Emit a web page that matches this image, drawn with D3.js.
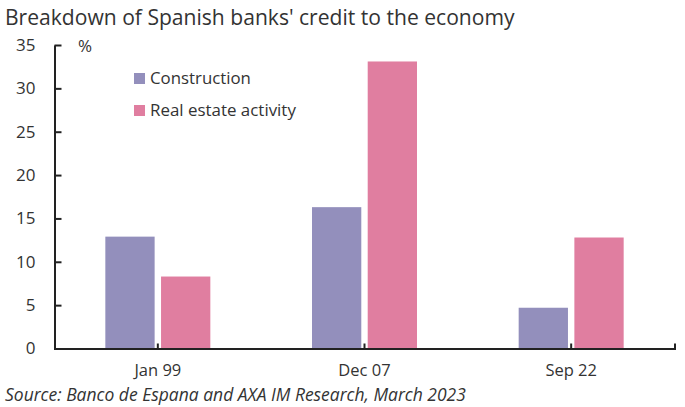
<!DOCTYPE html>
<html><head><meta charset="utf-8">
<script src="https://cdn.jsdelivr.net/npm/d3@7"></script>
<style>body{margin:0;background:#fff}svg{display:block}text{font-family:"Open Sans","Noto Sans",sans-serif;fill:#333}</style>
</head><body><svg id="c" width="685" height="407"></svg>
<script>
const categories = ["Jan 99", "Dec 07", "Sep 22"];
const seriesNames = ["Construction", "Real estate activity"];
const construction = [12.9, 16.3, 4.7];
const realEstate = [8.3, 33.1, 12.8];
const yTicks = [0, 5, 10, 15, 20, 25, 30, 35];
const colors = ["#938fbc", "#e07ea0"];
const titleText = "Breakdown of Spanish banks' credit to the economy";
const sourceText = "Source: Banco de Espana and AXA IM Research, March 2023";

const svg = d3.select("#c");
const m = {l: 54.5, r: 674.5, t: 45, b: 348.5};
const y = d3.scaleLinear().domain([0, 35]).range([m.b, m.t]);
const x0 = d3.scaleBand().domain(categories).range([m.l, m.r]);
const x1 = d3.scaleBand().domain(seriesNames).range([0, 105]).paddingInner(0.115);
const data = categories.map((c, i) => ({c, vals: [construction[i], realEstate[i]]}));

function fit(t, w) {
  const len = t.node().getComputedTextLength();
  const fs = parseFloat(t.attr("font-size"));
  t.attr("font-size", fs * w / len);
}

const title = svg.append("text").attr("x", 5).attr("y", 25).attr("font-size", 20).text(titleText);
fit(title, 510);

const g = svg.append("g");
data.forEach(d => {
  const cx = x0(d.c) + x0.bandwidth() / 2 - 52.5;
  seriesNames.forEach((s, j) => {
    g.append("rect").attr("x", cx + x1(s)).attr("width", x1.bandwidth())
      .attr("y", y(d.vals[j])).attr("height", y(0) - y(d.vals[j])).attr("fill", colors[j]);
  });
});

const ya = svg.append("g").attr("transform", `translate(${m.l},0)`)
  .call(d3.axisLeft(y).tickValues(yTicks).tickSizeInner(-7).tickSizeOuter(0).tickPadding(19));
ya.select(".domain").attr("stroke", "#222").attr("stroke-width", 2);
ya.selectAll(".tick line").attr("stroke", "#222").attr("stroke-width", 2);
ya.selectAll(".tick text").attr("font-size", 17).attr("fill", "#333").attr("font-family", '"Open Sans",sans-serif');

const xa = svg.append("g").attr("transform", `translate(0,${m.b})`)
  .call(d3.axisBottom(x0).tickSizeInner(-5).tickSizeOuter(-5).tickPadding(16));
xa.select(".domain").attr("stroke", "#222").attr("stroke-width", 2).attr("fill", "none");
xa.selectAll(".tick line").attr("stroke", "#222").attr("stroke-width", 2);
xa.selectAll(".tick text").attr("font-size", 16.5).attr("fill", "#333").attr("font-family", '"Open Sans",sans-serif');

svg.append("text").attr("x", 78).attr("y", 52).attr("font-size", 17).text("%");

const legW = [101, 146];
seriesNames.forEach((s, j) => {
  const ly = 78 + j * 32;
  svg.append("rect").attr("x", 134).attr("y", ly - 5).attr("width", 11).attr("height", 11).attr("fill", colors[j]);
  const t = svg.append("text").attr("x", 150).attr("y", ly + 6).attr("font-size", 16).text(s);
  fit(t, legW[j]);
});

const src = svg.append("text").attr("x", 5).attr("y", 401).attr("font-size", 16)
  .attr("font-style", "italic").text(sourceText);
fit(src, 461);
</script></body></html>
